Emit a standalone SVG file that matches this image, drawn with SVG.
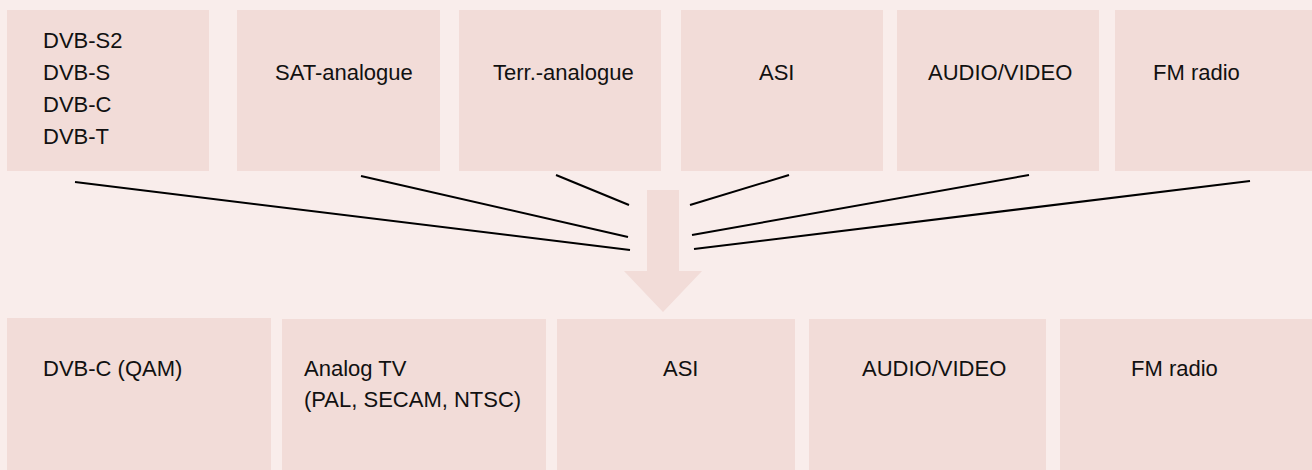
<svg xmlns="http://www.w3.org/2000/svg" width="1312" height="470" viewBox="0 0 1312 470">
<style>
.box{fill:#f2dcd8}
.t{font-family:"Liberation Sans",Arial,Helvetica,sans-serif;font-size:22px;fill:#111}
.ln{stroke:#000;stroke-width:2;fill:none}
</style>
<rect width="1312" height="470" fill="#f9edeb"/>
<g id="in-dvb"><rect class="box" x="7" y="10" width="202" height="161"/>
<text class="t" x="43" y="48">DVB-S2</text><text class="t" x="43" y="80">DVB-S</text><text class="t" x="43" y="112">DVB-C</text><text class="t" x="43" y="144">DVB-T</text></g>
<g id="in-sat"><rect class="box" x="237" y="10" width="203" height="161"/><text class="t" x="275" y="80">SAT-analogue</text></g>
<g id="in-terr"><rect class="box" x="459" y="10" width="202" height="161"/><text class="t" x="493" y="80">Terr.-analogue</text></g>
<g id="in-asi"><rect class="box" x="681" y="10" width="202" height="161"/><text class="t" x="759" y="80">ASI</text></g>
<g id="in-av"><rect class="box" x="897" y="10" width="202" height="161"/><text class="t" x="928" y="80">AUDIO/VIDEO</text></g>
<g id="in-fm"><rect class="box" x="1115" y="10" width="197" height="161"/><text class="t" x="1153" y="80">FM radio</text></g>
<g id="arrow"><polygon class="box" points="647,190 679,190 679,271 702,271 663,312 624,271 647,271"/></g>
<g id="connectors">
<line class="ln" x1="75" y1="182" x2="630" y2="250"/>
<line class="ln" x1="361" y1="176" x2="628" y2="237"/>
<line class="ln" x1="556" y1="175" x2="629" y2="205"/>
<line class="ln" x1="789" y1="175" x2="690" y2="205"/>
<line class="ln" x1="1029" y1="175" x2="692" y2="235"/>
<line class="ln" x1="1250" y1="181" x2="694" y2="249"/>
</g>
<g id="out-dvbc"><rect class="box" x="7" y="318" width="264" height="152"/><text class="t" x="43" y="376">DVB-C (QAM)</text></g>
<g id="out-analog"><rect class="box" x="282" y="319" width="264" height="151"/><text class="t" x="304" y="376">Analog TV</text><text class="t" x="304" y="407">(PAL, SECAM, NTSC)</text></g>
<g id="out-asi"><rect class="box" x="557" y="319" width="238" height="151"/><text class="t" x="663" y="376">ASI</text></g>
<g id="out-av"><rect class="box" x="809" y="319" width="237" height="151"/><text class="t" x="862" y="376">AUDIO/VIDEO</text></g>
<g id="out-fm"><rect class="box" x="1060" y="319" width="252" height="151"/><text class="t" x="1131" y="376">FM radio</text></g>
</svg>
